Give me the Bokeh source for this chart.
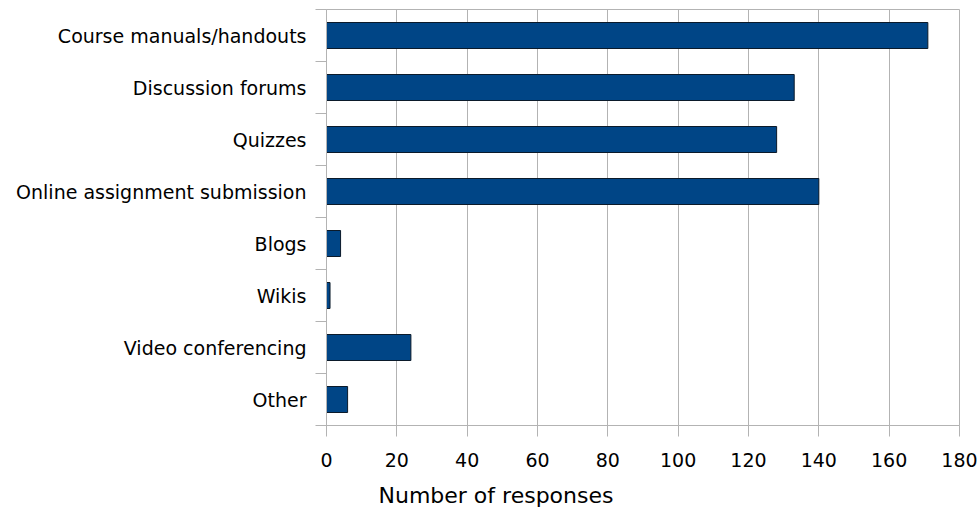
from bokeh.plotting import figure
from bokeh.models import Range1d, FixedTicker, Title
from bokeh.embed import file_html
from bokeh.resources import INLINE

categories = [
    "Course manuals/handouts",
    "Discussion forums",
    "Quizzes",
    "Online assignment submission",
    "Blogs",
    "Wikis",
    "Video conferencing",
    "Other",
]
responses = [171, 133, 128, 140, 4, 1, 24, 6]
x_ticks = [0, 20, 40, 60, 80, 100, 120, 140, 160, 180]
x_label = "Number of responses"

n = len(categories)
positions = [n - i - 0.5 for i in range(n)]
boundaries = list(range(n + 1))

FONT = "DejaVu Sans"
GRID = "#b3b3b3"

p = figure(
    width=979, height=519,
    x_range=Range1d(0, 180), y_range=Range1d(0, n),
    output_backend="svg", toolbar_location=None,
    min_border_left=326, min_border_right=20,
    min_border_top=9, min_border_bottom=94,
)
p.background_fill_color = "white"
p.border_fill_color = "white"
p.outline_line_color = GRID

p.hbar(y=positions, right=responses, left=0, height=0.5,
       fill_color="#004586", line_color="#0b1a2a", line_width=1)

# x axis
xa = p.xaxis[0]
xa.ticker = FixedTicker(ticks=x_ticks)
xa.axis_line_color = GRID
xa.major_tick_line_color = GRID
xa.major_tick_out = 11
xa.major_tick_in = 0
xa.minor_tick_line_color = None
xa.major_label_standoff = 16
xa.major_label_text_font = FONT
xa.major_label_text_font_size = "19px"
xa.major_label_text_color = "black"

# y axis
ya = p.yaxis[0]
ya.ticker = FixedTicker(ticks=positions, minor_ticks=boundaries)
ya.major_label_overrides = {pos: cat for pos, cat in zip(positions, categories)}
ya.axis_line_color = GRID
ya.major_tick_line_color = None
ya.major_tick_out = 0
ya.major_tick_in = 0
ya.minor_tick_line_color = GRID
ya.minor_tick_out = 11
ya.minor_tick_in = 0
ya.major_label_standoff = 9
ya.major_label_text_font = FONT
ya.major_label_text_font_size = "19px"
ya.major_label_text_color = "black"

p.xgrid.grid_line_color = GRID
p.xgrid.ticker = FixedTicker(ticks=x_ticks)
p.ygrid.grid_line_color = None

title = Title(text=x_label, align="left", offset=52, text_font=FONT,
              text_font_size="22px", text_font_style="normal",
              text_color="black", standoff=22)
p.add_layout(title, "below")

open("out.html", "w").write(file_html(p, INLINE))
